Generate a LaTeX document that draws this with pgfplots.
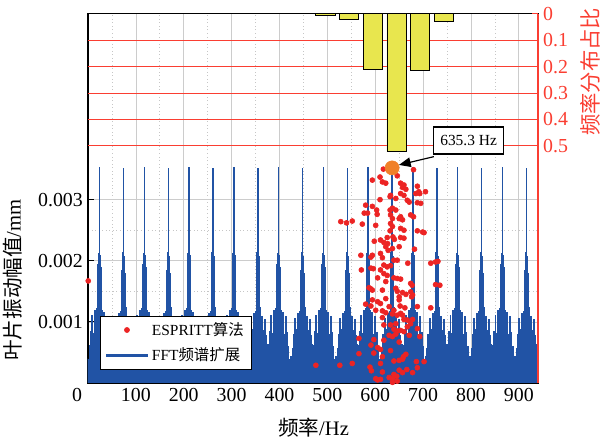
\documentclass[border=0pt]{standalone}
\usepackage{fontspec}
\setmainfont{Liberation Serif}
\newfontfamily\cjk{Noto Sans CJK SC}
\usepackage{pgfplots}
\pgfplotsset{compat=1.18}
\usetikzlibrary{arrows.meta}

\definecolor{fftblue}{RGB}{33,83,165}
\definecolor{espred}{RGB}{236,36,36}
\definecolor{peakorange}{RGB}{240,128,40}
\definecolor{axred}{RGB}{250,62,50}
\definecolor{baryellow}{RGB}{232,230,78}

\begin{document}
\begin{tikzpicture}
\useasboundingbox (-59.84pt,-39.44pt) rectangle (348.16pt,260.44pt);

% left axis: spectrum + ESPRITT estimates
\begin{axis}[
  at={(0,0)}, anchor=south west,
  scale only axis, width=306pt, height=251pt,
  xmin=0, xmax=940, ymin=0, ymax=0.00604,
  xtick={0,100,...,900},
  xticklabels={\hbox to 0pt{\hss 0\hskip 4pt},100,200,300,400,500,600,700,800,900},
  minor xtick={50,150,...,850},
  ytick={0.001,0.002,0.003},
  yticklabels={0.001,0.002,0.003},
  minor ytick={0.0005,0.0015,0.0025},
  scaled y ticks=false,
  xtick pos=bottom, ytick pos=left,
  tick align=inside,
  major tick length=4pt, minor tick length=0pt,
  xmajorgrids, xminorgrids, ymajorgrids, yminorgrids,
  major grid style={gray!40, line width=0.5pt},
  minor grid style={gray!45, dotted, line width=0.5pt},
  axis line style={line width=0.7pt},
  tick style={black, line width=0.6pt},
  /pgf/number format/assume math mode=true,
  ticklabel style={font=\fontsize{13.5}{15}\selectfont},
  xlabel={{\cjk 频率}/Hz},
  xlabel style={at={(axis description cs:0.501,-0.122)}, anchor=center, font=\fontsize{14}{16}\selectfont},
  ylabel={{\cjk 叶片振动幅值}/mm},
  ylabel style={at={(axis description cs:-0.167,0.279)}, anchor=center, font=\fontsize{14}{16}\selectfont},
  legend style={at={(axis description cs:0.0267,0.1816)}, anchor=north west,
    draw=black, line width=0.7pt, fill=white,
    font=\fontsize{10.5}{12}\selectfont,
    inner xsep=3pt, inner ysep=2pt, row sep=3pt, cells={anchor=west}},
]

% FFT spectrum, dense floor
\addplot[fill=fftblue, draw=fftblue, line width=0.2pt, forget plot] coordinates {
(0,0.00039)(6,0.00021)(12,0.00033)(18,0.00025)(24,0.00043)(30,0.00019)(36,0.00035)(42,0.00027)
(48,0.00035)(54,0.00023)(60,0.00041)(66,0.00020)(72,0.00032)(78,0.00026)(84,0.00038)(90,0.00022)
(96,0.00039)(102,0.00021)(108,0.00033)(114,0.00025)(120,0.00043)(126,0.00019)(132,0.00035)(138,0.00027)
(144,0.00035)(150,0.00023)(156,0.00041)(162,0.00020)(168,0.00032)(174,0.00026)(180,0.00038)(186,0.00022)
(192,0.00039)(198,0.00021)(204,0.00033)(210,0.00025)(216,0.00043)(222,0.00019)(228,0.00035)(234,0.00027)
(240,0.00035)(246,0.00023)(252,0.00041)(258,0.00020)(264,0.00032)(270,0.00026)(276,0.00038)(282,0.00022)
(288,0.00039)(294,0.00021)(300,0.00033)(306,0.00025)(312,0.00043)(318,0.00019)(324,0.00035)(330,0.00027)
(336,0.00035)(342,0.00023)(348,0.00041)(354,0.00020)(360,0.00032)(366,0.00026)(372,0.00038)(378,0.00022)
(384,0.00039)(390,0.00021)(396,0.00033)(402,0.00025)(408,0.00043)(414,0.00019)(420,0.00035)(426,0.00027)
(432,0.00035)(438,0.00023)(444,0.00041)(450,0.00020)(456,0.00032)(462,0.00026)(468,0.00038)(474,0.00022)
(480,0.00039)(486,0.00021)(492,0.00033)(498,0.00025)(504,0.00043)(510,0.00019)(516,0.00035)(522,0.00027)
(528,0.00035)(534,0.00023)(540,0.00041)(546,0.00020)(552,0.00032)(558,0.00026)(564,0.00038)(570,0.00022)
(576,0.00039)(582,0.00021)(588,0.00033)(594,0.00025)(600,0.00043)(606,0.00019)(612,0.00035)(618,0.00027)
(624,0.00035)(630,0.00023)(636,0.00041)(642,0.00020)(648,0.00032)(654,0.00026)(660,0.00038)(666,0.00022)
(672,0.00039)(678,0.00021)(684,0.00033)(690,0.00025)(696,0.00043)(702,0.00019)(708,0.00035)(714,0.00027)
(720,0.00035)(726,0.00023)(732,0.00041)(738,0.00020)(744,0.00032)(750,0.00026)(756,0.00038)(762,0.00022)
(768,0.00039)(774,0.00021)(780,0.00033)(786,0.00025)(792,0.00043)(798,0.00019)(804,0.00035)(810,0.00027)
(816,0.00035)(822,0.00023)(828,0.00041)(834,0.00020)(840,0.00032)(846,0.00026)(852,0.00038)(858,0.00022)
(864,0.00039)(870,0.00021)(876,0.00033)(882,0.00025)(888,0.00043)(894,0.00019)(900,0.00035)(906,0.00027)
(912,0.00035)(918,0.00023)(924,0.00041)(930,0.00020)(936,0.00032)(940,0.00030)
} \closedcycle;

% FFT spectrum, peaks and side lobes
\addplot[ycomb, draw=fftblue, line width=1.2pt, mark=none, forget plot] coordinates {
(0,0.00040)(3,0.00062)(6,0.00085)(9,0.00112)(12,0.00082)(15,0.00120)(17,0.00090)(19,0.00122)(21,0.00195)(22.5,0.00212)(24,0.00353)(25.5,0.00210)(27,0.00190)(29,0.00120)(31,0.00088)(33,0.00116)(36,0.00080)(39,0.00110)(42,0.00084)(45,0.00060)(48,0.00040)
(50,0.00044)(53,0.00058)(56,0.00080)(59,0.00106)(62,0.00088)(65,0.00114)(67,0.00084)(69,0.00118)(71,0.00185)(72.5,0.00215)(74,0.00352)(75.5,0.00208)(77,0.00180)(79,0.00124)(81,0.00092)(83,0.00110)(86,0.00086)(89,0.00104)(92,0.00078)(95,0.00064)(98,0.00044)
(94,0.00040)(97,0.00062)(100,0.00085)(103,0.00112)(106,0.00082)(109,0.00120)(111,0.00090)(113,0.00122)(115,0.00195)(116.5,0.00212)(118,0.00353)(119.5,0.00210)(121,0.00190)(123,0.00120)(125,0.00088)(127,0.00116)(130,0.00080)(133,0.00110)(136,0.00084)(139,0.00060)(142,0.00040)
(144,0.00044)(147,0.00058)(150,0.00080)(153,0.00106)(156,0.00088)(159,0.00114)(161,0.00084)(163,0.00118)(165,0.00185)(166.5,0.00215)(168,0.00352)(169.5,0.00208)(171,0.00180)(173,0.00124)(175,0.00092)(177,0.00110)(180,0.00086)(183,0.00104)(186,0.00078)(189,0.00064)(192,0.00044)
(187,0.00040)(190,0.00062)(193,0.00085)(196,0.00112)(199,0.00082)(202,0.00120)(204,0.00090)(206,0.00122)(208,0.00195)(209.5,0.00212)(211,0.00353)(212.5,0.00210)(214,0.00190)(216,0.00120)(218,0.00088)(220,0.00116)(223,0.00080)(226,0.00110)(229,0.00084)(232,0.00060)(235,0.00040)
(237,0.00044)(240,0.00058)(243,0.00080)(246,0.00106)(249,0.00088)(252,0.00114)(254,0.00084)(256,0.00118)(258,0.00185)(259.5,0.00215)(261,0.00352)(262.5,0.00208)(264,0.00180)(266,0.00124)(268,0.00092)(270,0.00110)(273,0.00086)(276,0.00104)(279,0.00078)(282,0.00064)(285,0.00044)
(281,0.00040)(284,0.00062)(287,0.00085)(290,0.00112)(293,0.00082)(296,0.00120)(298,0.00090)(300,0.00122)(302,0.00195)(303.5,0.00212)(305,0.00353)(306.5,0.00210)(308,0.00190)(310,0.00120)(312,0.00088)(314,0.00116)(317,0.00080)(320,0.00110)(323,0.00084)(326,0.00060)(329,0.00040)
(331,0.00044)(334,0.00058)(337,0.00080)(340,0.00106)(343,0.00088)(346,0.00114)(348,0.00084)(350,0.00118)(352,0.00185)(353.5,0.00215)(355,0.00352)(356.5,0.00208)(358,0.00180)(360,0.00124)(362,0.00092)(364,0.00110)(367,0.00086)(370,0.00104)(373,0.00078)(376,0.00064)(379,0.00044)
(374,0.00040)(377,0.00062)(380,0.00085)(383,0.00112)(386,0.00082)(389,0.00120)(391,0.00090)(393,0.00122)(395,0.00195)(396.5,0.00212)(398,0.00353)(399.5,0.00210)(401,0.00190)(403,0.00120)(405,0.00088)(407,0.00116)(410,0.00080)(413,0.00110)(416,0.00084)(419,0.00060)(422,0.00040)
(424,0.00044)(427,0.00058)(430,0.00080)(433,0.00106)(436,0.00088)(439,0.00114)(441,0.00084)(443,0.00118)(445,0.00185)(446.5,0.00215)(448,0.00352)(449.5,0.00208)(451,0.00180)(453,0.00124)(455,0.00092)(457,0.00110)(460,0.00086)(463,0.00104)(466,0.00078)(469,0.00064)(472,0.00044)
(468,0.00040)(471,0.00062)(474,0.00085)(477,0.00112)(480,0.00082)(483,0.00120)(485,0.00090)(487,0.00122)(489,0.00195)(490.5,0.00212)(492,0.00353)(493.5,0.00210)(495,0.00190)(497,0.00120)(499,0.00088)(501,0.00116)(504,0.00080)(507,0.00110)(510,0.00084)(513,0.00060)(516,0.00040)
(518,0.00044)(521,0.00058)(524,0.00080)(527,0.00106)(530,0.00088)(533,0.00114)(535,0.00084)(537,0.00118)(539,0.00185)(540.5,0.00215)(542,0.00352)(543.5,0.00208)(545,0.00180)(547,0.00124)(549,0.00092)(551,0.00110)(554,0.00086)(557,0.00104)(560,0.00078)(563,0.00064)(566,0.00044)
(561,0.00040)(564,0.00062)(567,0.00085)(570,0.00112)(573,0.00082)(576,0.00120)(578,0.00090)(580,0.00122)(582,0.00195)(583.5,0.00212)(585,0.00353)(586.5,0.00210)(588,0.00190)(590,0.00120)(592,0.00088)(594,0.00116)(597,0.00080)(600,0.00110)(603,0.00084)(606,0.00060)(609,0.00040)
(611,0.00044)(614,0.00058)(617,0.00080)(620,0.00106)(623,0.00088)(626,0.00114)(628,0.00084)(630,0.00118)(632,0.00185)(633.5,0.00215)(635,0.00352)(636.5,0.00208)(638,0.00180)(640,0.00124)(642,0.00092)(644,0.00110)(647,0.00086)(650,0.00104)(653,0.00078)(656,0.00064)(659,0.00044)
(655,0.00040)(658,0.00062)(661,0.00085)(664,0.00112)(667,0.00082)(670,0.00120)(672,0.00090)(674,0.00122)(676,0.00195)(677.5,0.00212)(679,0.00353)(680.5,0.00210)(682,0.00190)(684,0.00120)(686,0.00088)(688,0.00116)(691,0.00080)(694,0.00110)(697,0.00084)(700,0.00060)(703,0.00040)
(705,0.00044)(708,0.00058)(711,0.00080)(714,0.00106)(717,0.00088)(720,0.00114)(722,0.00084)(724,0.00118)(726,0.00185)(727.5,0.00215)(729,0.00352)(730.5,0.00208)(732,0.00180)(734,0.00124)(736,0.00092)(738,0.00110)(741,0.00086)(744,0.00104)(747,0.00078)(750,0.00064)(753,0.00044)
(748,0.00040)(751,0.00062)(754,0.00085)(757,0.00112)(760,0.00082)(763,0.00120)(765,0.00090)(767,0.00122)(769,0.00195)(770.5,0.00212)(772,0.00353)(773.5,0.00210)(775,0.00190)(777,0.00120)(779,0.00088)(781,0.00116)(784,0.00080)(787,0.00110)(790,0.00084)(793,0.00060)(796,0.00040)
(798,0.00044)(801,0.00058)(804,0.00080)(807,0.00106)(810,0.00088)(813,0.00114)(815,0.00084)(817,0.00118)(819,0.00185)(820.5,0.00215)(822,0.00352)(823.5,0.00208)(825,0.00180)(827,0.00124)(829,0.00092)(831,0.00110)(834,0.00086)(837,0.00104)(840,0.00078)(843,0.00064)(846,0.00044)
(842,0.00040)(845,0.00062)(848,0.00085)(851,0.00112)(854,0.00082)(857,0.00120)(859,0.00090)(861,0.00122)(863,0.00195)(864.5,0.00212)(866,0.00353)(867.5,0.00210)(869,0.00190)(871,0.00120)(873,0.00088)(875,0.00116)(878,0.00080)(881,0.00110)(884,0.00084)(887,0.00060)(890,0.00040)
(892,0.00044)(895,0.00058)(898,0.00080)(901,0.00106)(904,0.00088)(907,0.00114)(909,0.00084)(911,0.00118)(913,0.00185)(914.5,0.00215)(916,0.00352)(917.5,0.00208)(919,0.00180)(921,0.00124)(923,0.00092)(925,0.00110)(928,0.00086)(931,0.00104)(934,0.00078)(937,0.00064)(940,0.00044)
};

% ESPRITT estimates
\addplot[only marks, mark=*, mark size=1.7pt, color=espred, forget plot] coordinates {
(0.5,0.00167)(594,0.00332)(610,0.00337)(615,0.00329)(622,0.00327)(646,0.00339)(653,0.00327)(660,0.00324)
(657,0.00320)(664,0.00317)(653,0.00310)(660,0.00307)(688,0.00322)(691,0.00313)(685,0.00310)(705,0.00313)
(693,0.00310)(632,0.00307)(631,0.00305)(610,0.00300)(643,0.00302)(667,0.00299)(671,0.00296)(688,0.00295)
(695,0.00294)(580,0.00291)(577,0.00278)(584,0.00278)(594,0.00289)(603,0.00283)(604,0.00276)(636,0.00286)
(631,0.00283)(643,0.00283)(632,0.00275)(636,0.00269)(653,0.00272)(657,0.00267)(650,0.00269)(674,0.00275)
(680,0.00272)(528,0.00264)(540,0.00262)(552,0.00265)(573,0.00260)(601,0.00258)(632,0.00261)(636,0.00256)
(631,0.00249)(653,0.00253)(660,0.00250)(688,0.00249)(699,0.00247)(702,0.00246)(625,0.00238)(611,0.00234)
(653,0.00238)(598,0.00232)(618,0.00230)(626,0.00228)(637,0.00239)(640,0.00235)(660,0.00237)(622,0.00223)
(627,0.00217)(636,0.00220)(650,0.00223)(682,0.00219)(611,0.00212)(594,0.00209)(591,0.00206)(570,0.00209)
(615,0.00205)(639,0.00201)(646,0.00201)(716,0.00196)(726,0.00198)(731,0.00199)(668,0.00196)(618,0.00193)
(625,0.00190)(632,0.00192)(591,0.00188)(596,0.00187)(571,0.00185)(611,0.00185)(618,0.00179)(625,0.00176)
(646,0.00171)(653,0.00170)(639,0.00172)(605,0.00172)(622,0.00166)(674,0.00163)(677,0.00160)(726,0.00161)
(735,0.00160)(587,0.00156)(591,0.00154)(594,0.00152)(615,0.00152)(643,0.00155)(646,0.00150)(657,0.00148)
(664,0.00145)(674,0.00149)(678,0.00144)(676,0.00141)(622,0.00138)(650,0.00141)(650,0.00136)(594,0.00136)
(605,0.00133)(611,0.00130)(580,0.00129)(591,0.00126)(629,0.00125)(652,0.00126)(662,0.00123)(688,0.00125)
(716,0.00123)(601,0.00119)(615,0.00118)(622,0.00115)(639,0.00119)(653,0.00114)(636,0.00113)(646,0.00111)
(657,0.00111)(660,0.00104)(667,0.00103)(678,0.00104)(674,0.00097)(667,0.00092)(688,0.00089)(615,0.00107)
(618,0.00095)(632,0.00095)(643,0.00097)(639,0.00088)(646,0.00085)(653,0.00086)(629,0.00078)(636,0.00076)
(643,0.00080)(650,0.00067)(660,0.00084)(671,0.00078)(693,0.00076)(566,0.00073)(597,0.00071)(618,0.00070)
(591,0.00062)(605,0.00058)(611,0.00055)(632,0.00053)(597,0.00049)(566,0.00048)(615,0.00043)(664,0.00047)
(659,0.00043)(657,0.00039)(650,0.00037)(639,0.00036)(686,0.00035)(702,0.00035)(688,0.00025)(526,0.00029)
(552,0.00032)(476,0.00029)(611,0.00032)(589,0.00026)(592,0.00020)(650,0.00021)(639,0.00014)(645,0.00011)
(657,0.00017)(666,0.00022)(678,0.00017)(615,0.00018)(601,0.00007)(605,0.00005)(611,0.00006)(636,0.00007)
(646,0.00003)(629,0.00009)(636,0.00001)(617,0.00350)(680,0.00349)
};

% most frequent estimate
\addplot[only marks, mark=*, mark size=4.8pt, color=peakorange, forget plot] coordinates {(635.3,0.00352)};

\addlegendimage{legend image code/.code={\fill[espred] (0.5cm,0cm) circle (1.6pt);}}
\addlegendentry{ESPRITT{\cjk 算法}}
\addlegendimage{legend image code/.code={\draw[fftblue, line width=1.5pt] (0cm,0cm) -- (1cm,0cm);}}
\addlegendentry{FFT{\cjk 频谱扩展}}
\end{axis}

% right axis: frequency distribution ratio
\begin{axis}[
  at={(0,0)}, anchor=south west,
  scale only axis, width=306pt, height=251pt,
  xmin=0, xmax=940, ymin=0, ymax=1.398, y dir=reverse,
  axis x line=none, axis y line*=right,
  y axis line style={draw=axred, line width=0.7pt, -},
  ytick={0.1,0.2,0.3,0.4,0.5},
  extra y ticks={0}, extra y tick style={grid=none},
  ytick pos=right, yticklabel pos=right,
  tick align=inside, major tick length=4pt,
  ytick style={draw=axred, line width=0.6pt},
  ymajorgrids, major grid style={draw=axred, line width=0.7pt},
  /pgf/number format/assume math mode=true,
  yticklabel style={text=axred, font=\fontsize{13.5}{15}\selectfont},
]
\addplot[ybar, bar width=40, fill=baryellow, draw=black, line width=0.6pt] coordinates {
(496,0.005)(545.5,0.021)(595,0.212)(644.5,0.522)(694,0.215)(743.5,0.029)
};
\draw[-{Triangle[length=8pt,width=6.5pt]}, line width=0.8pt] (axis cs:722.5,0.5407) -- (axis cs:649.5,0.5722);
\node[draw=black, line width=0.8pt, fill=white, minimum width=47.6pt, minimum height=18.4pt,
  inner sep=2pt, font=\fontsize{10.5}{12}\selectfont] at (axis cs:795,0.4794) {635.3 Hz};
\end{axis}

\node[rotate=90, anchor=center, text=axred, font=\fontsize{14.5}{16}\selectfont] at (341.4pt,211.5pt) {\cjk 频率分布占比};
\end{tikzpicture}
\end{document}
